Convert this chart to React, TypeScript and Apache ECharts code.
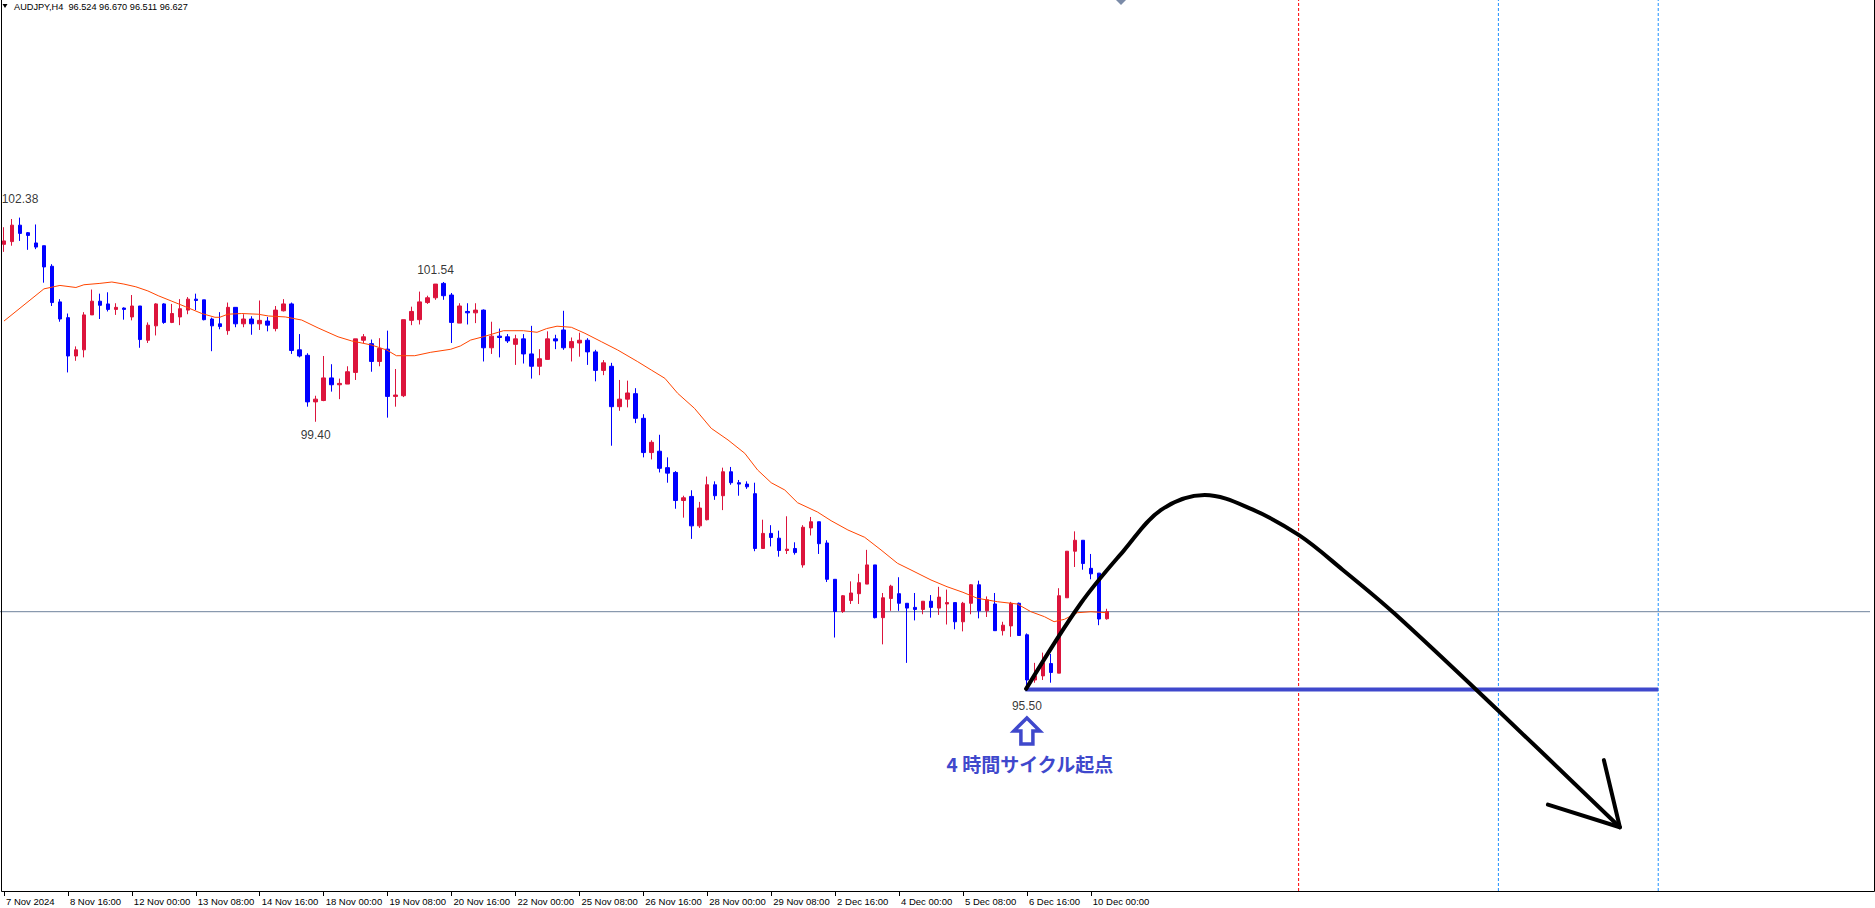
import React, { useEffect, useRef } from 'react';
import * as echarts from 'echarts';

// ---------- data ----------
const symbolHeader = 'AUDJPY,H4  96.524 96.670 96.511 96.627';

// time-axis labels, one every 8 H4 bars starting at bar 0
const timeLabels = [
  '7 Nov 2024', '8 Nov 16:00', '12 Nov 00:00', '13 Nov 08:00', '14 Nov 16:00',
  '18 Nov 00:00', '19 Nov 08:00', '20 Nov 16:00', '22 Nov 00:00', '25 Nov 08:00',
  '26 Nov 16:00', '28 Nov 00:00', '29 Nov 08:00', '2 Dec 16:00', '4 Dec 00:00',
  '5 Dec 08:00', '6 Dec 16:00', '10 Dec 00:00',
];
const LABEL_EVERY = 8;
const TOTAL_SLOTS = 234; // visible bars + empty right-hand space

// [open, high, low, close]
const ohlc: number[][] = [
  [101.99, 102.24, 101.88, 102.04], [102.03, 102.36, 101.97, 102.27], [102.27, 102.38, 102.04, 102.15],
  [102.16, 102.17, 101.91, 102.12], [102.01, 102.28, 101.92, 101.95], [101.97, 101.97, 101.43, 101.66],
  [101.67, 101.70, 101.09, 101.14], [101.15, 101.19, 100.86, 100.90], [100.92, 100.98, 100.12, 100.36],
  [100.36, 100.50, 100.29, 100.45], [100.45, 101.00, 100.34, 100.96], [100.96, 101.33, 100.96, 101.16],
  [101.16, 101.27, 100.90, 101.10], [101.12, 101.29, 101.01, 101.04], [101.04, 101.13, 100.96, 101.07],
  [101.06, 101.07, 100.89, 101.04], [100.93, 101.25, 100.88, 101.09], [101.09, 101.09, 100.48, 100.60],
  [100.59, 100.85, 100.55, 100.81], [100.80, 101.13, 100.66, 101.12], [101.12, 101.13, 100.83, 100.85],
  [100.85, 101.12, 100.84, 100.98], [100.93, 101.19, 100.81, 101.05], [101.03, 101.22, 100.97, 101.19],
  [101.19, 101.27, 101.03, 101.17], [101.18, 101.18, 100.88, 100.89], [100.90, 100.92, 100.43, 100.80],
  [100.83, 101.00, 100.75, 100.79], [100.73, 101.14, 100.67, 101.07], [101.07, 101.07, 100.78, 100.83],
  [100.83, 100.97, 100.78, 100.90], [100.90, 100.94, 100.67, 100.83], [100.83, 101.17, 100.74, 100.88],
  [100.87, 100.93, 100.72, 100.81], [100.76, 101.09, 100.72, 101.03], [101.02, 101.19, 101.01, 101.12],
  [101.12, 101.14, 100.39, 100.44], [100.45, 100.68, 100.34, 100.36], [100.37, 100.40, 99.62, 99.69],
  [99.69, 99.78, 99.40, 99.73], [99.71, 100.36, 99.70, 100.04], [100.04, 100.24, 99.84, 99.94],
  [99.94, 100.03, 99.73, 99.96], [99.95, 100.21, 99.95, 100.13], [100.12, 100.61, 100.01, 100.61],
  [100.59, 100.68, 100.55, 100.64], [100.54, 100.60, 100.13, 100.28], [100.28, 100.62, 100.21, 100.47],
  [100.46, 100.73, 99.46, 99.77], [99.77, 100.17, 99.62, 99.79], [99.78, 100.89, 99.76, 100.89],
  [100.88, 101.08, 100.81, 101.01], [100.89, 101.30, 100.82, 101.15], [101.14, 101.24, 101.12, 101.21],
  [101.21, 101.41, 101.18, 101.41], [101.42, 101.44, 101.18, 101.24], [101.25, 101.28, 100.55, 100.85],
  [100.84, 101.13, 100.84, 101.09], [101.01, 101.13, 100.82, 100.99], [100.99, 101.13, 100.84, 101.03],
  [101.03, 101.04, 100.28, 100.48], [100.48, 100.86, 100.39, 100.65], [100.65, 100.76, 100.34, 100.63],
  [100.64, 100.68, 100.55, 100.58], [100.53, 100.67, 100.23, 100.61], [100.61, 100.68, 100.25, 100.39],
  [100.39, 100.80, 100.03, 100.21], [100.21, 100.46, 100.08, 100.32], [100.31, 100.72, 100.31, 100.61],
  [100.61, 100.67, 100.46, 100.58], [100.74, 101.02, 100.45, 100.48], [100.48, 100.63, 100.28, 100.57],
  [100.55, 100.70, 100.35, 100.59], [100.59, 100.62, 100.23, 100.42], [100.42, 100.45, 99.99, 100.15],
  [100.15, 100.30, 100.08, 100.26], [100.21, 100.26, 99.05, 99.62], [99.62, 100.01, 99.56, 99.73],
  [99.73, 100.00, 99.61, 99.82], [99.81, 99.89, 99.38, 99.45], [99.45, 99.51, 98.88, 98.95],
  [98.95, 99.13, 98.85, 99.10], [98.97, 99.21, 98.66, 98.72], [98.73, 98.88, 98.51, 98.65],
  [98.66, 98.68, 98.13, 98.25], [98.25, 98.32, 98.00, 98.29], [98.31, 98.40, 97.69, 97.88],
  [97.88, 98.23, 97.85, 98.14], [97.97, 98.60, 97.96, 98.48], [98.48, 98.53, 98.26, 98.32],
  [98.32, 98.73, 98.11, 98.67], [98.67, 98.74, 98.48, 98.51], [98.51, 98.55, 98.32, 98.49],
  [98.49, 98.53, 98.42, 98.45], [98.35, 98.51, 97.51, 97.55], [97.55, 97.97, 97.55, 97.77],
  [97.77, 97.89, 97.58, 97.71], [97.70, 97.81, 97.43, 97.52], [97.52, 98.02, 97.47, 97.54],
  [97.55, 97.64, 97.46, 97.49], [97.31, 97.89, 97.27, 97.86], [97.85, 98.01, 97.74, 97.94],
  [97.94, 97.94, 97.47, 97.62], [97.63, 97.67, 97.06, 97.10], [97.10, 97.10, 96.25, 96.63],
  [96.63, 96.87, 96.61, 96.86], [96.79, 97.07, 96.74, 96.90], [96.89, 97.18, 96.74, 97.05],
  [97.03, 97.53, 97.03, 97.31], [97.31, 97.31, 96.53, 96.54], [96.54, 96.90, 96.15, 96.83],
  [96.82, 97.02, 96.64, 97.00], [96.89, 97.13, 96.64, 96.75], [96.75, 96.75, 95.88, 96.68],
  [96.69, 96.90, 96.50, 96.66], [96.66, 96.78, 96.59, 96.78], [96.78, 96.87, 96.54, 96.69],
  [96.68, 96.99, 96.58, 96.84], [96.74, 96.95, 96.44, 96.76], [96.76, 96.76, 96.37, 96.48],
  [96.48, 96.77, 96.34, 96.75], [96.75, 97.03, 96.59, 97.02], [97.02, 97.08, 96.53, 96.64],
  [96.64, 96.85, 96.55, 96.80], [96.74, 96.90, 96.35, 96.35], [96.35, 96.48, 96.28, 96.43],
  [96.42, 96.77, 96.26, 96.75], [96.75, 96.76, 96.28, 96.28], [96.29, 96.31, 95.50, 95.63],
  [95.63, 95.88, 95.59, 95.69], [95.69, 96.03, 95.63, 95.88], [95.87, 96.01, 95.59, 95.74],
  [95.73, 96.97, 95.73, 96.86], [96.83, 97.51, 96.83, 97.51], [97.51, 97.80, 97.28, 97.67],
  [97.67, 97.67, 97.24, 97.33], [97.26, 97.47, 97.10, 97.18], [97.19, 97.19, 96.43, 96.52],
  [96.524, 96.670, 96.511, 96.627],
];

// moving average : bar position, value
const maBars = [0, 5, 7, 9, 10, 12, 13.5, 15, 16.5, 18, 19.3, 21, 22.7, 24.75, 26.4, 27, 28, 29.75, 31.8, 33.1,
  35.2, 37.25, 39.3, 41.8, 43.5, 46, 47.9, 49.1, 51.4, 53.4, 55.9, 57.1, 58.4, 60, 62.5, 65, 66.7, 67.9, 69.2,
  71, 72.7, 74.75, 76.8, 79.3, 81, 82.7, 84.3, 86.4, 88.5, 90.6, 92.7, 94.3, 96, 97.7, 99.3, 101.8, 103.5,
  105.6, 107.7, 109.75, 111.8, 113.5, 116, 118, 120, 121.8, 124.3, 126.8, 128.5, 130.2, 131.4, 132.7, 134.3,
  136, 138];
const maValues = [100.87, 101.34, 101.39, 101.36, 101.40, 101.42, 101.44, 101.41, 101.37, 101.31, 101.24,
  101.16, 101.08, 100.98, 100.925, 100.925, 100.97, 100.98, 100.97, 100.944, 100.93, 100.885, 100.77, 100.64,
  100.58, 100.52, 100.447, 100.364, 100.364, 100.414, 100.458, 100.506, 100.593, 100.642, 100.729, 100.729,
  100.706, 100.76, 100.795, 100.779, 100.691, 100.569, 100.447, 100.277, 100.155, 100.034, 99.815, 99.596,
  99.304, 99.134, 98.939, 98.696, 98.51, 98.404, 98.218, 98.082, 97.955, 97.82, 97.713, 97.528, 97.334,
  97.236, 97.09, 96.992, 96.91, 96.823, 96.773, 96.739, 96.627, 96.554, 96.481, 96.516, 96.612, 96.627,
  96.612];

const bidPrice = 96.627;

// swing labels
const swingBars = [2, 54, 39, 128];
const swingTexts = ['102.38', '101.54', '99.40', '95.50'];
const swingSides = ['high', 'high', 'low', 'low'];

// hand-drawn annotations (in bar / price units)
const supportPrice = 95.49;
const supportFromBar = 127.8;
const supportToBar = 207;
const cycleBars = [162, 187, 207];
const curveBars = [127.9, 134.75, 140.2, 144.75, 150.25, 156.2, 162.1, 167.5, 174.0, 187.0, 202.2];
const curvePrices = [95.50, 96.75, 97.53, 98.11, 98.33, 98.12, 97.74, 97.24, 96.60, 95.18, 93.48];
const arrowHeadBars = [200.2, 202.2, 193.2];
const arrowHeadPrices = [94.46, 93.48, 93.81];
const cycleText = '4 時間サイクル起点';
const cycleStartBar = 128;

// ---------- style ----------
const RED = '#DC143C';
const BLUE = '#0000FF';
const MARK_BLUE = '#3F48CC';
const Y_MIN = 92.5496;
const Y_MAX = 105.557;
const labelOffsets = [-19, -14, 13, 17];
const cycleColors = ['#FF0000', '#1E90FF', '#1E90FF'];

const isLabelIdx = (i: number) => i % LABEL_EVERY === 0 && i / LABEL_EVERY < timeLabels.length;

export default function App() {
  const ref = useRef<HTMLDivElement>(null);

  useEffect(() => {
    document.body.style.margin = '0';
    const chart = echarts.init(ref.current!, null, { renderer: 'svg' });
    const categories = Array.from({ length: TOTAL_SLOTS }, (_, i) => String(i));

    const series: any[] = [];
    // bid line (behind candles)
    series.push({
      type: 'line', xAxisIndex: 1, yAxisIndex: 0, z: 1, silent: true, symbol: 'none',
      data: [[-0.5, bidPrice], [TOTAL_SLOTS - 0.5, bidPrice]],
      lineStyle: { color: '#6E829C', width: 1 },
    });
    // cycle vertical lines
    cycleBars.forEach((b, k) => {
      series.push({
        type: 'line', xAxisIndex: 1, yAxisIndex: 0, z: 1, silent: true, symbol: 'none',
        data: [[b, Y_MIN], [b, Y_MAX]],
        lineStyle: { color: cycleColors[k], width: 1, type: [3, 2] },
      });
    });
    series.push({
      type: 'candlestick', xAxisIndex: 0, yAxisIndex: 0, z: 2, silent: true,
      data: ohlc.map(([o, h, l, c]) => [o, c, l, h]),
      barWidth: 4,
      itemStyle: { color: RED, color0: BLUE, borderColor: RED, borderColor0: BLUE, borderWidth: 1 },
    });
    series.push({
      type: 'line', xAxisIndex: 1, yAxisIndex: 0, z: 3, silent: true, symbol: 'none',
      data: maBars.map((b, i) => [b, maValues[i]]),
      lineStyle: { color: '#FF4500', width: 1 },
    });
    series.push({
      type: 'scatter', xAxisIndex: 1, yAxisIndex: 0, z: 4, silent: true, symbolSize: 0,
      data: swingBars.map((b, i) => ({
        value: [b, swingSides[i] === 'high' ? ohlc[b][1] : ohlc[b][2]],
        label: {
          show: true, position: 'inside', offset: [0, labelOffsets[i]], formatter: swingTexts[i],
          fontSize: 12, fontFamily: 'Liberation Sans', color: '#000',
        },
      })),
    });
    series.push({
      type: 'line', xAxisIndex: 1, yAxisIndex: 0, z: 5, silent: true, symbol: 'none',
      data: [[supportFromBar, supportPrice], [supportToBar, supportPrice]],
      lineStyle: { color: MARK_BLUE, width: 4 },
    });
    series.push({
      type: 'line', xAxisIndex: 1, yAxisIndex: 0, z: 6, silent: true, symbol: 'none', smooth: 0.35,
      data: curveBars.map((b, i) => [b, curvePrices[i]]),
      lineStyle: { color: '#000', width: 4, cap: 'round', join: 'round' },
    });
    series.push({
      type: 'line', xAxisIndex: 1, yAxisIndex: 0, z: 6, silent: true, symbol: 'none',
      data: arrowHeadBars.map((b, i) => [b, arrowHeadPrices[i]]),
      lineStyle: { color: '#000', width: 4, cap: 'round', join: 'round' },
    });

    const option: any = {
      animation: false,
      backgroundColor: '#fff',
      grid: { left: -2, top: 0, width: TOTAL_SLOTS * 8, height: 891, containLabel: false },
      xAxis: [
        {
          type: 'category', data: categories, boundaryGap: true,
          axisLine: { show: false },
          axisTick: { show: true, alignWithLabel: true, interval: (i: number) => isLabelIdx(i), length: 5, lineStyle: { color: '#000' } },
          axisLabel: {
            show: true, interval: (i: number) => isLabelIdx(i),
            formatter: (_v: string, i: number) => (isLabelIdx(i) ? timeLabels[i / LABEL_EVERY] : ''),
            align: 'left', margin: 5, fontSize: 9.5, fontFamily: 'Liberation Sans', color: '#000',
            padding: [0, 0, 0, 2],
          },
          splitLine: { show: false },
        },
        { type: 'value', min: -0.5, max: TOTAL_SLOTS - 0.5, show: false },
      ],
      yAxis: [{ type: 'value', min: Y_MIN, max: Y_MAX, show: false, splitLine: { show: false } }],
      series,
    };
    chart.setOption(option);

    const low = ohlc[cycleStartBar][2];
    const [ax, ay] = chart.convertToPixel({ xAxisIndex: 1, yAxisIndex: 0 }, [cycleStartBar, low]) as number[];
    const arrowPts = [
      [ax, ay + 29], [ax + 13, ay + 42], [ax + 6, ay + 42], [ax + 6, ay + 55],
      [ax - 6, ay + 55], [ax - 6, ay + 42], [ax - 13, ay + 42],
    ];

    chart.setOption({
      graphic: [
        {
          type: 'polyline', silent: true, z: 100,
          shape: { points: [[1.5, 0], [1.5, 891.5], [1874.5, 891.5], [1874.5, 0]] },
          style: { stroke: '#000', lineWidth: 1, fill: null },
        },
        {
          type: 'polygon', silent: true, z: 100,
          shape: { points: [[2.5, 4], [7.5, 4], [5, 8]] },
          style: { fill: '#000' },
        },
        {
          type: 'text', silent: true, z: 100, x: 14, y: 7,
          style: {
            text: symbolHeader, font: '9.2px "Liberation Sans"', fill: '#000',
            align: 'left', verticalAlign: 'middle', textAlign: 'left', textVerticalAlign: 'middle',
          },
        },
        {
          type: 'polygon', silent: true, z: 100,
          shape: { points: [[1116, 0], [1126, 0], [1121, 5]] },
          style: { fill: '#7B8BA8' },
        },
        {
          type: 'polygon', silent: true, z: 100,
          shape: { points: arrowPts },
          style: { fill: '#fff', stroke: MARK_BLUE, lineWidth: 3.5, lineJoin: 'miter' },
        },
        {
          type: 'text', silent: true, z: 100, x: ax + 3, y: ay + 75,
          style: {
            text: cycleText, font: 'bold 19px "Noto Sans CJK JP"', fill: MARK_BLUE,
            align: 'center', verticalAlign: 'middle', textAlign: 'center', textVerticalAlign: 'middle',
          },
        },
      ],
    });

    return () => chart.dispose();
  }, []);

  return <div ref={ref} style={{ width: 1875, height: 908 }} />;
}
